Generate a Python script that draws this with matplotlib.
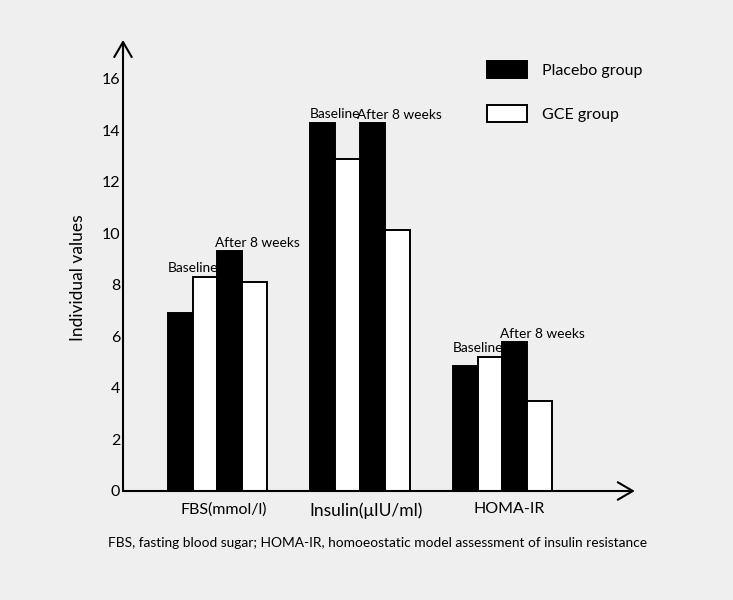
import numpy as np
import matplotlib
matplotlib.use("Agg")
import matplotlib.pyplot as plt
from matplotlib.patches import Patch

plt.rcParams['font.family'] = ['Lato', 'DejaVu Sans']

# data
categories = ['FBS(mmol/l)', 'Insulin(μIU/ml)', 'HOMA-IR']
placebo_baseline = [6.9, 14.3, 4.85]
gce_baseline = [8.3, 12.9, 5.2]
placebo_after = [9.3, 14.3, 5.8]
gce_after = [8.1, 10.15, 3.5]
yticks = [0, 2, 4, 6, 8, 10, 12, 14, 16]
caption = "FBS, fasting blood sugar; HOMA-IR, homoeostatic model assessment of insulin resistance"

bg = '#efefef'
fig = plt.figure(figsize=(7.33, 6.0), dpi=100, facecolor=bg)
ax = fig.add_axes([123 / 733, 1 - 491 / 600, 517 / 733, 451 / 600])
ax.set_facecolor(bg)

x = np.arange(len(categories))
w = 0.175
series = [placebo_baseline, gce_baseline, placebo_after, gce_after]
colors = ['black', 'white', 'black', 'white']
offsets = [-1.5 * w, -0.5 * w, 0.5 * w, 1.5 * w]
for vals, c, off in zip(series, colors, offsets):
    ax.bar(x + off, vals, width=w, color=c, edgecolor='black', linewidth=1.4, zorder=2)

# annotations above the pairs
for i in range(len(categories)):
    top_b = max(placebo_baseline[i], gce_baseline[i])
    ax.text(x[i] - w, top_b + 0.12, 'Baseline', ha='center', va='bottom', fontsize=9.9)
    ax.text(x[i] - 0.02, placebo_after[i] + 0.08, 'After 8 weeks', ha='left', va='bottom', fontsize=9.9)

ax.set_xlim(-0.663, 2.965)
ax.set_ylim(0, 17.51)
ax.set_yticks(yticks)
ax.set_yticklabels([str(t) for t in yticks], fontsize=11.5)
ax.set_xticks(x + 0.045)
ax.set_xticklabels(categories, fontsize=11.5)
ax.get_xticklabels()[1].set_fontsize(12.5)
ax.tick_params(axis='y', length=0, pad=2)
ax.tick_params(axis='x', length=0, pad=8)
for s in ax.spines.values():
    s.set_visible(False)

# axis lines with open arrow heads
arrow = dict(arrowstyle='->,head_length=0.6,head_width=0.35', lw=1.5, color='black',
             shrinkA=0, shrinkB=0, mutation_scale=18)
ax.annotate('', xy=(0, 1), xycoords='axes fraction', xytext=(0, 0), arrowprops=arrow)
ax.annotate('', xy=(0.99, 0), xycoords='axes fraction', xytext=(0, 0), arrowprops=arrow)

ax.set_ylabel('Individual values', fontsize=12.5)
ax.yaxis.set_label_coords(-0.072, 0.474)

handles = [Patch(facecolor='black', edgecolor='black', linewidth=1.4),
           Patch(facecolor='white', edgecolor='black', linewidth=1.4)]
ax.legend(handles, ['Placebo group', 'GCE group'], loc='upper left',
          bbox_to_anchor=(487 / 733, 1 - 61 / 600), bbox_transform=fig.transFigure,
          frameon=False, fontsize=11.5, borderpad=0, borderaxespad=0,
          handlelength=2.5, handleheight=1.25, handletextpad=0.95, labelspacing=1.7)

fig.text(108 / 733, 1 - 543 / 600, caption, ha='left', va='center', fontsize=9.9)

fig.savefig('out.png', dpi=100, facecolor=bg)
